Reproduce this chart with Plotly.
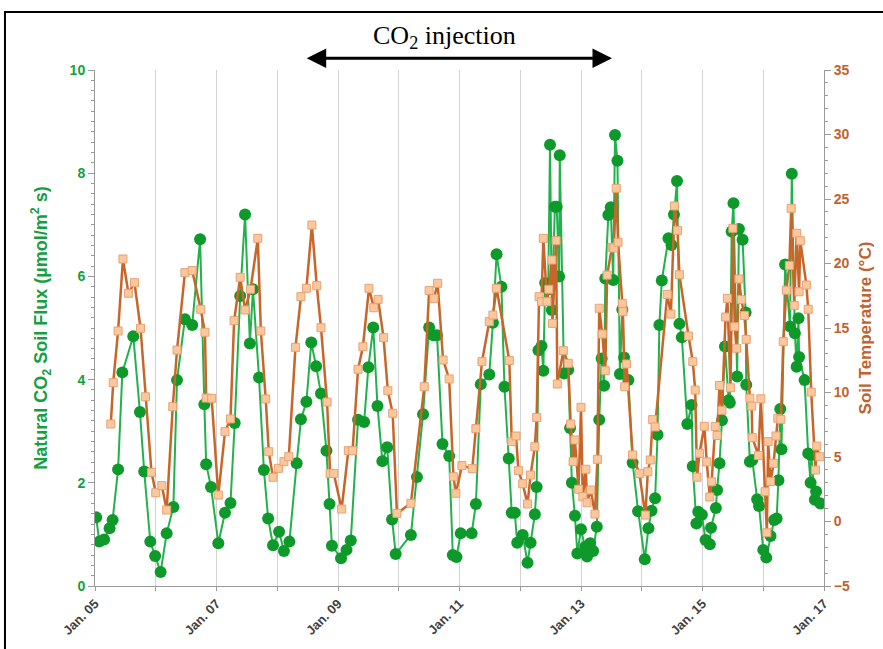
import plotly.graph_objects as go

# ---------------- data ----------------
flux_time = [2005.02, 2005.07, 2005.15, 2005.24, 2005.29, 2005.38, 2005.45, 2005.63, 2005.74, 2005.81,
             2005.91, 2005.99, 2006.08, 2006.18, 2006.29, 2006.35, 2006.48, 2006.60, 2006.73, 2006.80,
             2006.83, 2006.91, 2007.03, 2007.14, 2007.23, 2007.30, 2007.39, 2007.47, 2007.55, 2007.60,
             2007.70, 2007.78, 2007.85, 2007.93, 2008.03, 2008.11, 2008.20, 2008.32, 2008.39, 2008.48,
             2008.56, 2008.64, 2008.72, 2008.81, 2008.86, 2008.90, 2009.05, 2009.14, 2009.21, 2009.33,
             2009.43, 2009.50, 2009.58, 2009.65, 2009.73, 2009.81, 2009.89, 2009.95, 2010.20, 2010.30,
             2010.40, 2010.50, 2010.57, 2010.63, 2010.72, 2010.83, 2010.89, 2010.95, 2011.02, 2011.20,
             2011.27, 2011.35, 2011.49, 2011.55, 2011.61, 2011.69, 2011.74, 2011.81, 2011.86, 2011.91,
             2011.95, 2012.04, 2012.12, 2012.17, 2012.24, 2012.27, 2012.30, 2012.35, 2012.38, 2012.41,
             2012.46, 2012.49, 2012.52, 2012.57, 2012.60, 2012.64, 2012.65, 2012.72, 2012.79, 2012.82,
             2012.85, 2012.90, 2012.94, 2013.00, 2013.07, 2013.10, 2013.15, 2013.20, 2013.26, 2013.30,
             2013.34, 2013.38, 2013.40, 2013.45, 2013.49, 2013.53, 2013.56, 2013.60, 2013.64, 2013.68,
             2013.71, 2013.78, 2013.85, 2013.94, 2014.05, 2014.11, 2014.16, 2014.22, 2014.26, 2014.29,
             2014.33, 2014.44, 2014.49, 2014.53, 2014.58, 2014.62, 2014.66, 2014.75, 2014.82, 2014.84,
             2014.90, 2014.93, 2014.99, 2015.05, 2015.12, 2015.14, 2015.22, 2015.24, 2015.28, 2015.32,
             2015.37, 2015.43, 2015.45, 2015.48, 2015.51, 2015.57, 2015.60, 2015.66, 2015.71, 2015.72,
             2015.78, 2015.82, 2015.90, 2015.93, 2016.00, 2016.05, 2016.12, 2016.18, 2016.22, 2016.25,
             2016.28, 2016.30, 2016.36, 2016.44, 2016.47, 2016.52, 2016.55, 2016.58, 2016.59, 2016.68,
             2016.74, 2016.78, 2016.79, 2016.85, 2016.87, 2016.94]
flux_values = [1.33, 0.86, 0.90, 1.12, 1.28, 2.26, 4.14, 4.84, 3.37, 2.22,
               0.86, 0.58, 0.27, 1.02, 1.53, 3.99, 5.17, 5.06, 6.72, 3.52,
               2.36, 1.92, 0.83, 1.42, 1.61, 3.16, 5.62, 7.20, 4.70, 5.75,
               4.04, 2.25, 1.31, 0.79, 1.05, 0.68, 0.86, 2.38, 3.23, 3.57,
               4.72, 4.26, 3.73, 2.62, 1.59, 0.78, 0.54, 0.70, 0.88, 3.22,
               3.18, 4.24, 5.01, 3.49, 2.42, 2.69, 1.29, 0.62, 0.99, 2.11,
               3.33, 5.01, 4.86, 4.86, 2.75, 2.52, 0.60, 0.56, 1.02, 1.02,
               1.59, 3.91, 4.10, 5.10, 6.43, 5.80, 3.86, 2.47, 1.42, 1.42,
               0.84, 0.99, 0.45, 0.84, 1.39, 1.92, 4.57, 4.65, 4.17, 5.87,
               5.75, 8.55, 5.35, 7.35, 7.35, 6.00, 8.35, 4.12, 4.19, 3.06,
               2.00, 1.36, 0.63, 1.10, 0.76, 0.57, 0.83, 0.68, 1.15, 3.22,
               4.41, 3.88, 5.96, 7.19, 7.34, 5.93, 8.74, 8.24, 4.11, 5.36,
               4.43, 3.99, 2.39, 1.45, 0.52, 1.12, 1.46, 1.70, 2.93, 5.06,
               5.92, 6.74, 6.61, 7.20, 7.85, 5.08, 4.82, 3.14, 3.51, 2.32,
               1.21, 1.44, 1.38, 0.89, 0.81, 1.13, 1.51, 1.86, 2.38, 3.21,
               4.64, 3.60, 3.55, 6.87, 7.42, 4.06, 6.92, 6.71, 5.30, 3.90,
               2.41, 2.44, 1.68, 1.55, 0.70, 0.55, 0.97, 1.28, 1.31, 2.05,
               3.43, 2.65, 6.23, 5.03, 7.99, 4.90, 4.25, 5.19, 4.44, 3.99,
               2.57, 2.00, 2.54, 1.67, 1.83, 1.60]

temp_time = [2005.26, 2005.30, 2005.38, 2005.46, 2005.55, 2005.65, 2005.75, 2005.83, 2005.93, 2006.00,
             2006.10, 2006.18, 2006.28, 2006.35, 2006.48, 2006.60, 2006.74, 2006.81, 2006.83, 2006.92,
             2007.03, 2007.14, 2007.23, 2007.29, 2007.39, 2007.47, 2007.56, 2007.68, 2007.73, 2007.81,
             2007.86, 2007.93, 2008.02, 2008.11, 2008.19, 2008.30, 2008.39, 2008.48, 2008.57, 2008.65,
             2008.72, 2008.82, 2008.87, 2008.93, 2009.06, 2009.17, 2009.24, 2009.33, 2009.41, 2009.51,
             2009.59, 2009.66, 2009.75, 2009.82, 2009.90, 2009.97, 2010.20, 2010.42, 2010.50, 2010.58,
             2010.64, 2010.73, 2010.83, 2010.90, 2010.94, 2011.04, 2011.21, 2011.27, 2011.37, 2011.49,
             2011.55, 2011.61, 2011.82, 2011.86, 2011.93, 2011.97, 2012.04, 2012.12, 2012.17, 2012.24,
             2012.27, 2012.31, 2012.35, 2012.38, 2012.44, 2012.47, 2012.52, 2012.53, 2012.59, 2012.61,
             2012.71, 2012.79, 2012.83, 2012.87, 2012.90, 2012.96, 2013.00, 2013.03, 2013.08, 2013.10,
             2013.16, 2013.23, 2013.27, 2013.30, 2013.35, 2013.40, 2013.43, 2013.51, 2013.54, 2013.58,
             2013.61, 2013.68, 2013.69, 2013.72, 2013.75, 2013.85, 2013.96, 2014.06, 2014.10, 2014.14,
             2014.18, 2014.22, 2014.42, 2014.48, 2014.54, 2014.59, 2014.62, 2014.77, 2014.84, 2014.88,
             2014.91, 2014.95, 2015.03, 2015.07, 2015.12, 2015.15, 2015.21, 2015.24, 2015.28, 2015.32,
             2015.38, 2015.41, 2015.46, 2015.50, 2015.53, 2015.56, 2015.60, 2015.64, 2015.69, 2015.72,
             2015.78, 2015.81, 2015.82, 2015.92, 2015.96, 2016.03, 2016.06, 2016.08, 2016.12, 2016.17,
             2016.21, 2016.24, 2016.29, 2016.33, 2016.38, 2016.43, 2016.46, 2016.51, 2016.55, 2016.59,
             2016.61, 2016.71, 2016.74, 2016.79, 2016.86, 2016.88, 2016.93]
temp_values = [7.56, 10.76, 14.77, 20.35, 17.69, 18.51, 14.98, 9.67, 3.81, 2.23,
               2.78, 0.89, 8.90, 13.29, 19.29, 19.45, 16.45, 14.67, 9.57, 9.55,
               2.05, 6.96, 7.95, 15.57, 18.93, 16.40, 18.00, 21.95, 14.77, 9.50,
               5.41, 3.43, 4.12, 4.64, 5.03, 13.50, 17.43, 18.08, 22.98, 18.28,
               15.02, 9.26, 3.73, 3.73, 0.97, 5.49, 5.49, 11.80, 13.55, 18.08,
               16.57, 17.22, 14.25, 10.14, 8.39, 0.63, 1.41, 10.45, 17.90, 17.30,
               18.47, 12.52, 11.05, 3.47, 2.19, 4.33, 4.10, 7.20, 12.39, 15.49,
               16.00, 18.08, 12.47, 6.19, 6.63, 3.94, 2.93, 1.36, 3.60, 5.80,
               8.06, 17.43, 17.04, 21.95, 17.04, 18.00, 20.27, 15.36, 21.77, 10.66,
               13.24, 12.26, 7.56, 4.64, 6.32, 2.50, 8.85, 1.92, 4.05, 1.46,
               2.44, 0.58, 4.82, 16.53, 14.53, 11.69, 19.10, 21.26, 21.20, 25.83,
               21.65, 16.91, 16.27, 10.45, 12.21, 5.16, 3.71, 0.50, 3.86, 4.77,
               7.90, 7.33, 17.60, 16.08, 24.46, 22.57, 19.13, 14.38, 12.39, 10.19,
               3.43, 5.29, 7.38, 4.62, 1.90, 3.08, 7.37, 6.67, 10.54, 8.62,
               15.85, 17.30, 10.37, 22.73, 15.10, 13.43, 18.80, 17.20, 15.97, 14.12,
               9.55, 8.95, 6.50, 5.12, 9.51, 2.31, -0.87, 6.19, 3.10, 4.51,
               6.63, 8.00, 7.92, 13.94, 17.93, 19.84, 24.28, 16.75, 22.34, 17.81,
               21.76, 18.33, 16.45, 10.03, 3.99, 5.85, 5.02]

label_years = [2005, 2007, 2009, 2011, 2013, 2015, 2017]
year_labels = ["Jan. 05", "Jan. 07", "Jan. 09", "Jan. 11", "Jan. 13", "Jan. 15", "Jan. 17"]
flux_ticks = [0, 2, 4, 6, 8, 10]
temp_ticks = [-5, 0, 5, 10, 15, 20, 25, 30, 35]

injection_start = 2008.46
injection_end = 2013.51
injection_label_x = 2010.76

# ---------------- styles ----------------
GREEN_LINE = "#22b24c"
GREEN_MARK = "#0d9a2a"
GREEN_TXT = "#13a040"
ORANGE_LINE = "#c8662a"
ORANGE_MARK = "#fbc79d"
ORANGE_EDGE = "#e9a272"
ORANGE_TXT = "#c0622f"
AXIS_GREY = "#9a9a9a"
FONT = "Liberation Sans"

fig = go.Figure()
fig.add_trace(go.Scatter(
    x=flux_time, y=flux_values, mode="lines+markers", name="Flux",
    line=dict(color=GREEN_LINE, width=2),
    marker=dict(color=GREEN_MARK, size=12, line=dict(width=0)),
    yaxis="y", showlegend=False))
fig.add_trace(go.Scatter(
    x=temp_time, y=temp_values, mode="lines+markers", name="Temperature",
    line=dict(color=ORANGE_LINE, width=2.5),
    marker=dict(color=ORANGE_MARK, size=8, symbol="square",
                line=dict(color=ORANGE_EDGE, width=1)),
    yaxis="y2", showlegend=False))

fig.update_layout(
    width=883, height=649,
    margin=dict(l=95, r=59, t=70, b=63, autoexpand=False),
    paper_bgcolor="white", plot_bgcolor="white",
    font=dict(family=FONT),
    xaxis=dict(
        range=[2005, 2017], tickmode="array", tickvals=label_years, ticktext=year_labels,
        tickangle=-45, tickfont=dict(family=FONT, size=13, color="#404040", weight="bold"),
        showgrid=True, gridcolor="#d3d3d3", gridwidth=1,
        showline=True, linecolor=AXIS_GREY, linewidth=1,
        ticks="outside", ticklen=4, tickcolor=AXIS_GREY, zeroline=False, automargin=False,
        minor=dict(tick0=2005, dtick=1, showgrid=True, gridcolor="#d3d3d3", gridwidth=1,
                   ticks="outside", ticklen=4, tickcolor=AXIS_GREY)),
    yaxis=dict(
        range=[0, 10], tickmode="array", tickvals=flux_ticks,
        tickfont=dict(family=FONT, size=14, color=GREEN_TXT, weight="bold"),
        title=dict(text="Natural CO<sub>2</sub> Soil Flux (µmol/m<sup>2</sup> s)",
                   font=dict(family=FONT, size=18, color=GREEN_TXT, weight="bold"),
                   standoff=17),
        showgrid=False, zeroline=False, automargin=False,
        showline=True, linecolor=AXIS_GREY, linewidth=1,
        ticks="outside", ticklen=6, tickcolor=AXIS_GREY,
        minor=dict(tick0=0, dtick=0.2, ticks="outside", ticklen=3, tickcolor=AXIS_GREY)),
    yaxis2=dict(
        range=[-5, 35], tickmode="array", tickvals=temp_ticks,
        overlaying="y", side="right",
        tickfont=dict(family=FONT, size=14, color=ORANGE_TXT, weight="bold"),
        title=dict(text="Soil Temperature (°C)",
                   font=dict(family=FONT, size=17, color=ORANGE_TXT, weight="bold"),
                   standoff=10),
        showgrid=False, zeroline=False, automargin=False,
        showline=True, linecolor=AXIS_GREY, linewidth=1,
        ticks="outside", ticklen=6, tickcolor=AXIS_GREY,
        minor=dict(tick0=-5, dtick=1, ticks="outside", ticklen=3, tickcolor=AXIS_GREY)),
    shapes=[dict(type="rect", xref="paper", yref="paper",
                 x0=-0.1235, x1=1.6, y0=-0.6, y1=1.1124,
                 line=dict(color="black", width=2), fillcolor="rgba(0,0,0,0)", layer="above")],
    annotations=[
        dict(text="CO<sub>2</sub> injection", xref="x", yref="paper",
             x=injection_label_x, y=1.064, xanchor="center", yanchor="middle",
             showarrow=False,
             font=dict(family="Liberation Serif", size=26, color="black")),
        dict(text="", xref="x", yref="paper", x=injection_end, y=1.023,
             axref="x", ax=injection_start, ayref="pixel", ay=0,
             showarrow=True, arrowside="end+start", arrowhead=2, arrowsize=1.3,
             arrowwidth=3, arrowcolor="black", standoff=0, startstandoff=0),
    ],
)

fig.write_html("out.html", config={"displayModeBar": False},
               post_script="document.body.style.margin='0';")
